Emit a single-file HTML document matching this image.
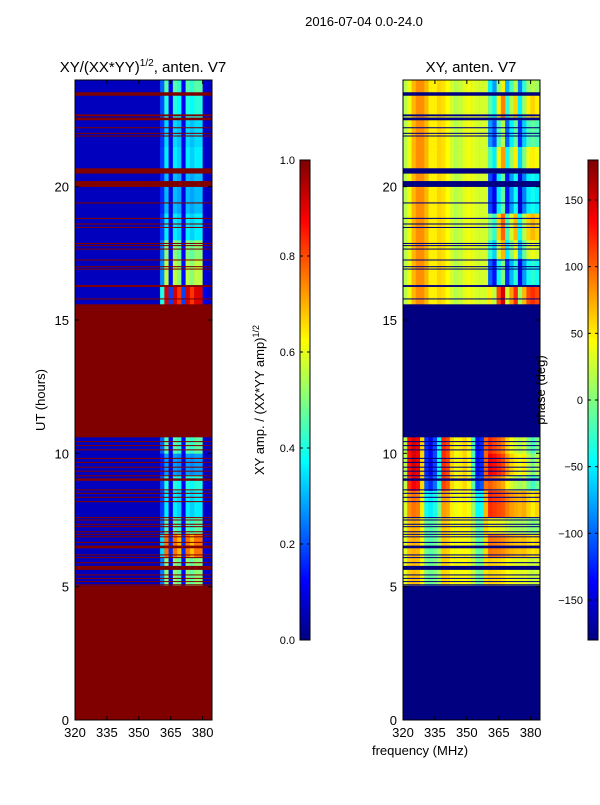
<!DOCTYPE html>
<html><head><meta charset="utf-8"><style>
body{margin:0;background:#fff;width:600px;height:800px;overflow:hidden;font-family:"Liberation Sans",sans-serif}
svg text{font-family:"Liberation Sans",sans-serif;font-size:13px;fill:#000}
</style></head><body>
<svg id="fig" width="600" height="800">
<text x="364" y="26" text-anchor="middle">2016-07-04 0.0-24.0</text>
<text x="143" y="72" text-anchor="middle" style="font-size:15px">XY/(XX*YY)<tspan dy="-6" style="font-size:10px">1/2</tspan><tspan dy="6">, anten. V7</tspan></text>
<text x="471" y="72" text-anchor="middle" style="font-size:15px">XY, anten. V7</text>
<text transform="translate(45,400) rotate(-90)" text-anchor="middle">UT (hours)</text>
<text x="420" y="755" text-anchor="middle">frequency (MHz)</text>
<text transform="translate(264,400) rotate(-90)" text-anchor="middle">XY amp. / (XX*YY amp)<tspan dy="-5" style="font-size:9px">1/2</tspan></text>
<g id="left"></g>
<g id="right"></g>
<text transform="translate(545,390) rotate(-90)" text-anchor="middle">phase (deg)</text>
<g id="cb"></g>
</svg>
<script>
const freqs=[320,322,324,326,328,330,332,334,336,338,340,342,344,346,348,350,352,354,356,358,360,362,364,366,368,370,372,374,376,378,380,382];
const ampWeight=[0,0,0,0,0,0,0,0,0,0,0,0,0,0,0,0,0,0,0,0,0.4,1,0.15,1,0.9,0.15,1,0.9,1,1,0.05,0.02];
const phaseUpper=[20,40,70,85,85,70,50,50,60,55,45,30,20,25,35,40,35,30,30,30,-60,-90,0,40,-80,-30,10,-100,-40,0,10,0];
const phaseLower=[20,130,150,140,60,-120,-140,-110,-40,120,110,60,40,50,60,40,-20,-130,-120,100,120,110,100,90,60,40,30,20,30,0,-20,0];
const segStart=[5.05,6.1,7.0,7.6,8.6,9.2,10.0,15.6,16.3,17.3,18.0,19.0,20.5,21.5,22.5,23.5];
const segEnd=[6.1,7.0,7.6,8.6,9.2,10.0,10.6,16.3,17.3,18.0,19.0,20.5,21.5,22.5,23.5,24];
const segAmp=[0.45,0.7,0.4,0.3,0.35,0.22,0.4,0.85,0.5,0.45,0.3,0.25,0.3,0.28,0.35,0.4];
const segShift=[0,30,-20,40,-10,20,0,110,-40,30,60,-50,40,-20,50,10];
const segContrast=[0.25,0.3,0.3,0.5,0.9,1,1,1,1,1,1,1,1,1,1,1];
const flagged=[[5.05,5.09],[5.18,5.21],[5.29,5.33],[5.42,5.46],[5.63,5.78],[5.88,5.92],[6.07,6.11],[6.17,6.21],[6.44,6.54],[6.64,6.68],[6.85,6.89],[6.95,6.98],[7.04,7.08],[7.23,7.27],[7.32,7.36],[7.48,7.52],[7.57,7.61],[8.17,8.21],[8.33,8.37],[8.48,8.52],[8.61,8.65],[8.97,9.06],[9.14,9.18],[9.31,9.35],[9.46,9.5],[9.64,9.68],[9.79,9.83],[10.11,10.15],[10.27,10.31],[10.42,10.46],[15.77,15.81],[16.24,16.31],[16.89,16.93],[16.98,17.02],[17.23,17.27],[17.64,17.68],[17.77,17.81],[17.85,17.89],[18.45,18.49],[18.58,18.62],[18.79,18.83],[19.37,19.41],[19.99,20.21],[20.49,20.69],[21.88,21.92],[21.98,22.02],[22.19,22.23],[22.49,22.59],[22.64,22.71],[23.41,23.54]];
const yTicks=[0,5,10,15,20];
const xTicks=[320,335,350,365,380];
const ampTicks=[0.0,0.2,0.4,0.6,0.8,1.0];
const phTicks=[-150,-100,-50,0,50,100,150];

const NS='http://www.w3.org/2000/svg';
function jet(v){v=Math.max(0,Math.min(1,v));const c=t=>Math.round(255*Math.max(0,Math.min(1,1.5-Math.abs(4*v-t))));return `rgb(${c(3)},${c(2)},${c(1)})`;}
function mk(tag,attrs,parent){const e=document.createElementNS(NS,tag);for(const k in attrs)e.setAttribute(k,attrs[k]);parent.appendChild(e);return e;}
const Y=h=>720-h*640/24;
function panel(gid,x0,mode){
  const g=document.getElementById(gid);
  const X=f=>x0+(f-320)/64.4*137;
  const clip=mk('clipPath',{id:'c'+gid},g);mk('rect',{x:x0,y:80,width:137,height:640},clip);
  const inner=mk('g',{'clip-path':`url(#c${gid})`},g);
  const flagCol=mode==='amp'?jet(1):jet(0);
  const bg=mk('rect',{x:x0,y:80,width:137,height:640,fill:flagCol},inner);
  
  
  segStart.forEach((s,i)=>{
    freqs.forEach((f,j)=>{
      let v;
      if(mode==='amp'){v=0.06+ampWeight[j]*segAmp[i];}
      else{
        let p;
        if(s<12){p=40+(phaseLower[j]-40)*segContrast[i];}
        else{p=phaseUpper[j];}
        if(f>=360)p+=segShift[i];
        p=((p+180)%360+360)%360-180;v=(p+180)/360;
      }
      const r=mk('rect',{x:X(f),y:Y(segEnd[i]),width:X(f+2)-X(f)+0.3,height:Y(s)-Y(segEnd[i])+0.3,fill:jet(v)},inner);
      
      
    });
  });
  flagged.forEach(fl=>{
    const r=mk('rect',{x:x0,y:Y(fl[1]),width:137,height:Math.max(1,Y(fl[0])-Y(fl[1])),fill:flagCol},inner);
    
    
  });
  mk('rect',{x:x0,y:80,width:137,height:640,fill:'none',stroke:'#000','stroke-width':1},g);
  yTicks.forEach(t=>{
    mk('line',{x1:x0,x2:x0+4,y1:Y(t),y2:Y(t),stroke:'#000'},g);
    mk('line',{x1:x0+133,x2:x0+137,y1:Y(t),y2:Y(t),stroke:'#000'},g);
    const tx=mk('text',{x:x0-6,y:Y(t)+5,'text-anchor':'end'},g);tx.textContent=t;
    
    
  });
  xTicks.forEach(t=>{
    mk('line',{x1:X(t),x2:X(t),y1:720,y2:716,stroke:'#000'},g);
    mk('line',{x1:X(t),x2:X(t),y1:80,y2:84,stroke:'#000'},g);
    const tx=mk('text',{x:X(t),y:737,'text-anchor':'middle'},g);tx.textContent=t;
    
    
  });
}
panel('left',75,'amp');panel('right',403,'phase');
function colorbar(x0,lo,hi,ticks){
  const g=document.getElementById('cb');
  for(let i=0;i<240;i++){
    const v=1-i/240;
    const r=mk('rect',{x:x0,y:160+i*2,width:10,height:2.3,fill:jet(v)},g);
    
    
  }
  mk('rect',{x:x0,y:160,width:10,height:480,fill:'none',stroke:'#000'},g);
  ticks.forEach(t=>{
    const y=640-(t-lo)/(hi-lo)*480;
    mk('line',{x1:x0,x2:x0+3,y1:y,y2:y,stroke:'#000'},g);
    mk('line',{x1:x0+7,x2:x0+10,y1:y,y2:y,stroke:'#000'},g);
    const tx=mk('text',{x:x0-5,y:y+4,'text-anchor':'end',style:'font-size:11px'},g);
    tx.textContent=(hi===1?t.toFixed(1):(t<0?'\u2212'+(-t):t));
    
    
  });
}
colorbar(300,0,1,ampTicks);colorbar(588,-180,180,phTicks);
</script>
</body></html>
